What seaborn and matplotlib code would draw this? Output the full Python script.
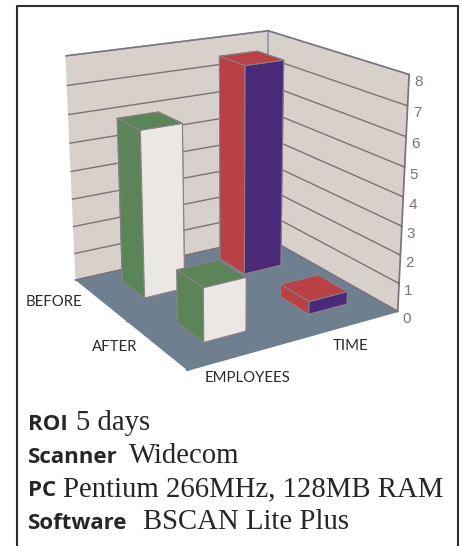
import numpy as np
import pandas as pd
import seaborn as sns
import matplotlib
matplotlib.use('Agg')
import matplotlib.pyplot as plt
from matplotlib.lines import Line2D
from matplotlib.transforms import ScaledTranslation
from mpl_toolkits.mplot3d import proj3d

W, H = 462, 546

# chart values
rows = ['BEFORE', 'AFTER']
cols = ['EMPLOYEES', 'TIME']
employees = [5.9, 1.85]
time_vals = [7.55, 0.45]

# caption under the chart
caption_heads = ['ROI', 'Scanner', 'PC', 'Software']
caption_vals = ['5 days', 'Widecom', 'Pentium 266MHz, 128MB RAM', 'BSCAN Lite Plus']

sns.set_theme(style='white')
plt.rcParams['font.family'] = ['Lato', 'DejaVu Sans']

df = pd.DataFrame({'row': rows * 2, 'col': [cols[0]] * 2 + [cols[1]] * 2,
                   'value': employees + time_vals})

green, white, red, purple = '#5b8559', '#ebe7e4', '#b94045', '#4a2a78'
wall, floor, edge, grid = '#d8d0cb', '#6e7f8f', '#8a9bb0', '#7d7278'
faces = {'EMPLOYEES': [green, green, white, white, green, green],
         'TIME': [red, red, purple, purple, red, red]}

fig = plt.figure(figsize=(W / 100, H / 100), dpi=100)
left, top, S = 22.7, -14.2, 407.0
ax = fig.add_axes([left / W, 1 - (top + S) / H, S / W, S / H], projection='3d')
ax.set_xlim(0, 2)
ax.set_ylim(0, 2)
ax.set_zlim(0, 8)
ax.view_init(18.61, -121.5)
ax.set_proj_type('persp', focal_length=0.548)
ax.set_box_aspect((1, 0.998, 1.004))

ax.xaxis.set_pane_color(wall)
ax.yaxis.set_pane_color(wall)
ax.zaxis.set_pane_color(floor)
for axis in (ax.xaxis, ax.yaxis):
    axis.pane.set_edgecolor(edge)
    axis.pane.set_linewidth(1.2)
    axis._axinfo['grid']['linewidth'] = 0
    axis.line.set_color((0, 0, 0, 0))
    axis._axinfo['tick'].update(inward_factor=0, outward_factor=0.08)
ax.zaxis.pane.set_edgecolor(floor)
ax.zaxis._axinfo['grid'].update(color=grid, linewidth=1)
ax.zaxis._axinfo['tick'].update(inward_factor=0, outward_factor=0.12)
ax.zaxis.line.set_color(grid)
ax.zaxis.set_ticks_position('lower')

ax.set_xticks([0, 1, 2], labels=[])
ax.set_yticks([0, 1, 2], labels=[])
ax.set_zticks(range(9))
ax.tick_params(axis='x', color=floor)
ax.tick_params(axis='y', color=floor)
ax.tick_params(axis='z', color=grid, labelcolor=grid, labelsize=11, pad=-4, labelfontfamily='Liberation Sans')
# nudge the z labels up a little
nudge = ScaledTranslation(0, 4 / 100, fig.dpi_scale_trans)
for tick in ax.zaxis.get_major_ticks():
    tick.label1.set_transform(ax.transData + nudge)

# bars, positions from the category order
wx, wy = 0.39, 0.42
for _, r in df.iterrows():
    x = cols.index(r['col']) + 0.34
    y = 1 - rows.index(r['row']) + 0.34
    ax.bar3d(x, y, 0, wx, wy, r['value'], shade=False, edgecolor='#8a7f85', linewidth=0.8, color=faces[r['col']])

# category labels
M = ax.get_proj()
label_style = dict(textcoords='offset pixels', ha='center', va='center', fontsize=10.7, color='#2a2a2a', annotation_clip=False)
for name, pos, off in zip(rows, [1.5, 0.5], [(-46, -2), (-41, -2)]):
    X, Y, _ = proj3d.proj_transform(0, pos, 0, M)
    ax.annotate(name, xy=(X, Y), xytext=off, **label_style)
for name, pos, off in zip(cols, [0.5, 1.5], [(3, -24), (1, -21)]):
    X, Y, _ = proj3d.proj_transform(pos, 0, 0, M)
    ax.annotate(name, xy=(X, Y), xytext=off, **label_style)

# frame, open at the bottom
for xs, ys in [((16.5, 16.5), (0, H - 6)), ((16.5, 457.5), (H - 6, H - 6)), ((457.5, 457.5), (H - 6, 0))]:
    fig.add_artist(Line2D([v / W for v in xs], [v / H for v in ys], color='#2e2e2e', linewidth=1.5))

# caption
for head, val, base, vx in zip(caption_heads, caption_vals, [430, 463, 496, 529], [76, 129, 63, 143]):
    fig.text(28 / W, 1 - base / H, head, fontsize=16, fontweight='bold', family='Open Sans', color='#262626', va='baseline')
    fig.text(vx / W, 1 - base / H, val, fontsize=20.7, family='Liberation Serif', color='#262626', va='baseline')

fig.savefig('out.png', dpi=100)
